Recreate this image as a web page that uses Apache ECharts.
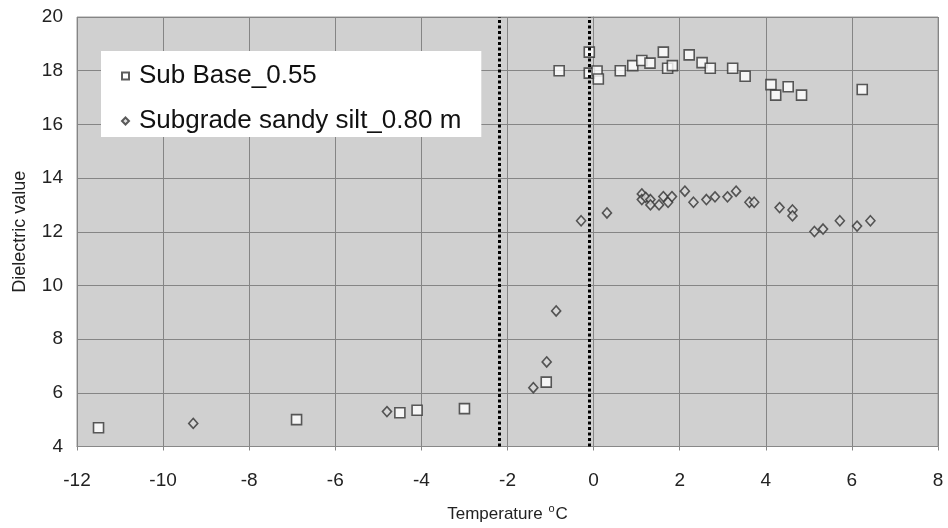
<!DOCTYPE html>
<html><head><meta charset="utf-8">
<script src="https://cdn.jsdelivr.net/npm/echarts@6/dist/echarts.min.js"></script>
<style>html,body{margin:0;padding:0;background:#fff}#c{width:948px;height:528px}</style>
</head><body><div id="c"></div>
<script>
const subBaseT = [-11.5,-6.9,-4.5,-4.1,-3.0,-1.1,-0.8,-0.1,-0.1,0.08,0.11,0.62,0.91,1.12,1.31,1.62,1.72,1.83,2.22,2.52,2.71,3.23,3.52,4.12,4.23,4.52,4.83,6.24];
const subBaseV = [4.7,5.0,5.26,5.35,5.41,6.4,18.0,18.69,17.91,17.99,17.69,18.0,18.19,18.38,18.28,18.69,18.09,18.19,18.59,18.3,18.09,18.09,17.79,17.48,17.09,17.4,17.09,17.3];
const subgradeT = [-9.3,-4.8,-1.4,-1.09,-0.87,-0.29,0.31,1.12,1.12,1.21,1.32,1.32,1.52,1.62,1.73,1.82,2.12,2.32,2.62,2.82,3.11,3.31,3.62,3.73,4.32,4.62,4.62,5.13,5.33,5.72,6.12,6.43];
const subgradeV = [4.86,5.3,6.19,7.15,9.05,12.41,12.7,13.41,13.2,13.28,13.2,13.0,13.0,13.31,13.1,13.31,13.51,13.1,13.2,13.3,13.3,13.51,13.1,13.1,12.9,12.81,12.59,12.01,12.1,12.41,12.21,12.41];
const freezeLines = [-2.2, -0.1];
const seriesNames = ['Sub Base_0.55', 'Subgrade sandy silt_0.80 m'];
const xTicks = {min:-12, max:8, interval:2};
const yTicks = {min:4, max:20, interval:2};

const FONT = 'Liberation Sans, Arial, sans-serif';
const chart = echarts.init(document.getElementById('c'), null, {renderer:'canvas'});
const zip = (a,b)=>a.map((t,i)=>[t,b[i]]);
chart.setOption({
  animation:false,
  backgroundColor:'#ffffff',
  grid:{left:77,right:10,top:17,bottom:79,show:true,backgroundColor:'#d0d0d0',borderColor:'#9a9a9a',borderWidth:1},
  legend:{
    left:101, top:51, width:381, orient:'vertical', itemGap:15,
    backgroundColor:'#ffffff', padding:[10,20,1,20],
    borderWidth:0, itemWidth:7, itemHeight:7,
    formatter:name=>'{t|'+name+'}',
    textStyle:{fontFamily:FONT,fontSize:26,lineHeight:30,color:'#111',
      rich:{t:{fontFamily:FONT,fontSize:26,lineHeight:30,color:'#111',padding:[0,0,0,5]}}},
    data:[{name:seriesNames[0]},{name:seriesNames[1]}]
  },
  xAxis:{
    type:'value', min:xTicks.min, max:xTicks.max, interval:xTicks.interval,
    name:'Temperature {sup|o}C', nameLocation:'middle', nameGap:57,
    nameTextStyle:{fontFamily:FONT,fontSize:17,color:'#222',
      rich:{sup:{fontSize:11,verticalAlign:'top',padding:[0,1,11,1],fontFamily:FONT,color:'#222'}}},
    axisLine:{show:true,onZero:false,lineStyle:{color:'#888'}},
    axisTick:{show:true,length:4,lineStyle:{color:'#888'}},
    axisLabel:{fontFamily:FONT,fontSize:19,color:'#222',margin:25},
    splitLine:{show:true,lineStyle:{color:'#858585',width:1}}
  },
  yAxis:{
    type:'value', min:yTicks.min, max:yTicks.max, interval:yTicks.interval,
    name:'Dielectric value', nameLocation:'middle', nameGap:48, nameRotate:90,
    nameTextStyle:{fontFamily:FONT,fontSize:18,color:'#222'},
    axisLine:{show:true,lineStyle:{color:'#888'}},
    axisTick:{show:true,length:4,lineStyle:{color:'#888'}},
    axisLabel:{fontFamily:FONT,fontSize:19,color:'#222',margin:14},
    splitLine:{show:true,lineStyle:{color:'#858585',width:1}}
  },
  series:[
    {name:seriesNames[0],type:'scatter',symbol:'rect',symbolSize:10,
     data:zip(subBaseT,subBaseV),
     itemStyle:{color:'#ffffff',borderColor:'#333',borderWidth:1.6},
     markLine:{silent:true,symbol:'none',label:{show:false},
       lineStyle:{type:[3,2.5],color:'#000',width:3},
       data:freezeLines.map(v=>({xAxis:v}))}},
    {name:seriesNames[1],type:'scatter',symbol:'diamond',symbolSize:[9,10],
     data:zip(subgradeT,subgradeV),
     itemStyle:{color:'#d8d8d8',borderColor:'#333',borderWidth:1.6}}
  ]
});
</script></body></html>
